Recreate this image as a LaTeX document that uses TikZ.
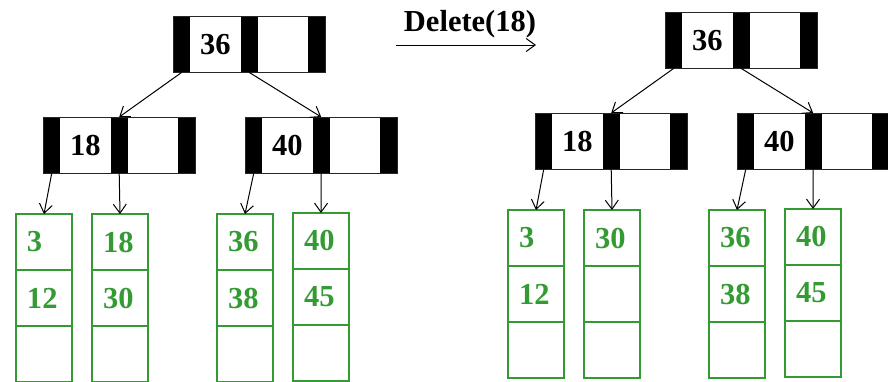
\documentclass[tikz,border=0pt]{standalone}
\usepackage{fontspec}
\setmainfont{Liberation Serif}
\usetikzlibrary{arrows.meta}
\definecolor{leafgreen}{RGB}{52,155,52}
\newcommand\keynode[3]{% name, top-left corner, key
  \begin{scope}[shift={#2}]
    \node[bar]  (#1-p1) at (0,0)    {};
    \node[slot] (#1-k1) at (17,0)   {#3};
    \node[bar]  (#1-p2) at (67.5,0) {};
    \node[slot] (#1-k2) at (84.5,0) {};
    \node[bar]  (#1-p3) at (135,0)  {};
    \draw[frame] (0,0) rectangle (152,56);
  \end{scope}}
\newcommand\leafnode[4]{% name, top-left corner, first key, second key
  \begin{scope}[shift={#2}]
    \node[cell] (#1-1) at (0,0)   {#3};
    \node[cell] (#1-2) at (0,56)  {#4};
    \node[cell] (#1-3) at (0,112) {};
    \draw[cellframe] (#1-1.north west) rectangle (#1-3.south east)
      (#1-2.north west) -- (#1-2.north east)
      (#1-3.north west) -- (#1-3.north east);
  \end{scope}}
\begin{document}
\begin{tikzpicture}[x=1pt,y=-1pt,
  font=\fontsize{30.5}{32}\selectfont\bfseries,
  bar/.style={anchor=north west,fill=black,draw=none,inner sep=0pt,
    minimum width=17pt,minimum height=56pt},
  slot/.style={anchor=north west,draw=none,inner sep=0pt,
    minimum width=50.5pt,minimum height=56pt},
  frame/.style={draw=black!85,line width=1pt},
  cell/.style={anchor=north west,text=leafgreen,draw=none,outer sep=0pt,
    minimum width=56pt,minimum height=56pt,
    text width=34pt,inner xsep=11pt,inner ysep=0pt,align=left},
  cellframe/.style={draw=leafgreen,line width=1.2pt},
  link/.style={draw=black,line width=1pt,-{Straight Barb[length=9pt,width=13pt,line width=1pt]}}]
\useasboundingbox (0,0) rectangle (888,381);
\clip (0,0) rectangle (888,381);

% tree before the deletion
\keynode{ra}{(173,16)}{36}
\keynode{aa}{(43,117)}{18}
\keynode{ab}{(245,117)}{40}
\leafnode{la}{(16,214)}{3}{12}
\leafnode{lb}{(92,214)}{18}{30}
\leafnode{lc}{(217,214)}{36}{38}
\leafnode{ld}{(293,213)}{40}{45}
\draw[link] (ra-p1.south) -- (aa-p2.north);
\draw[link] (ra-p2.south) -- (ab-p2.north);
\draw[link] (aa-p1.south) -- (la-1.north);
\draw[link] (aa-p2.south) -- (lb-1.north);
\draw[link] (ab-p1.south) -- (lc-1.north);
\draw[link] (ab-p2.south) -- (ld-1.north);

% operation
\node[anchor=base] (op) at (470,31) {Delete(18)};
\coordinate (op-s) at (396,45);
\coordinate (op-e) at (536,45);
\draw[link] (op-s) -- (op-e);

% tree after the deletion
\keynode{rb}{(665,12)}{36}
\keynode{ba}{(535,113)}{18}
\keynode{bb}{(737,113)}{40}
\leafnode{ma}{(508,210)}{3}{12}
\leafnode{mb}{(584,210)}{30}{}
\leafnode{mc}{(709,210)}{36}{38}
\leafnode{md}{(785,209)}{40}{45}
\draw[link] (rb-p1.south) -- (ba-p2.north);
\draw[link] (rb-p2.south) -- (bb-p2.north);
\draw[link] (ba-p1.south) -- (ma-1.north);
\draw[link] (ba-p2.south) -- (mb-1.north);
\draw[link] (bb-p1.south) -- (mc-1.north);
\draw[link] (bb-p2.south) -- (md-1.north);
\end{tikzpicture}
\end{document}
